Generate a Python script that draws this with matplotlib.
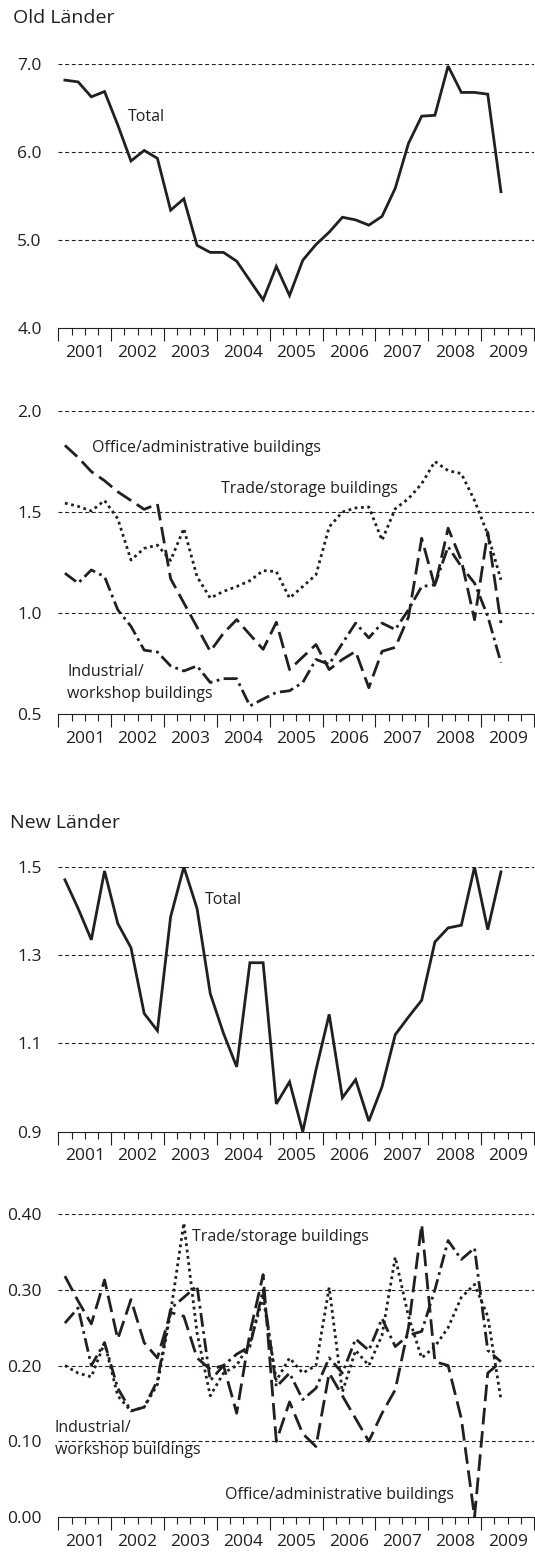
import numpy as np
import matplotlib.pyplot as plt
from matplotlib.transforms import offset_copy

plt.rcParams['font.family'] = ['Open Sans', 'DejaVu Sans']

# quarterly values, 2001 Q1 .. 2009 Q2
old_total = [6.82, 6.80, 6.63, 6.69, 6.31, 5.90, 6.02, 5.93, 5.34, 5.47, 4.94, 4.86,
             4.86, 4.76, 4.54, 4.32, 4.70, 4.37, 4.77, 4.95, 5.09, 5.26, 5.23, 5.17,
             5.27, 5.59, 6.10, 6.41, 6.42, 6.98, 6.68, 6.68, 6.66, 5.55]
old_office = [1.83, 1.77, 1.70, 1.655, 1.60, 1.557, 1.513, 1.54, 1.17, 1.05, 0.93, 0.81,
              0.90, 0.967, 0.893, 0.82, 0.954, 0.72, 0.782, 0.844, 0.72, 0.77, 0.81, 0.63,
              0.81, 0.83, 0.98, 1.37, 1.13, 1.42, 1.26, 0.967, 1.40, 0.95]
old_trade = [1.544, 1.528, 1.505, 1.557, 1.467, 1.262, 1.32, 1.336, 1.26, 1.418, 1.18, 1.074,
             1.107, 1.131, 1.16, 1.21, 1.205, 1.074, 1.131, 1.189, 1.426, 1.50, 1.52, 1.525,
             1.36, 1.516, 1.566, 1.64, 1.75, 1.705, 1.69, 1.557, 1.39, 1.164]
old_industrial = [1.197, 1.148, 1.213, 1.18, 1.016, 0.934, 0.816, 0.807, 0.738, 0.713, 0.738, 0.656,
                  0.675, 0.675, 0.54, 0.574, 0.607, 0.615, 0.656, 0.77, 0.746, 0.85, 0.95, 0.877,
                  0.95, 0.918, 1.016, 1.131, 1.14, 1.328, 1.23, 1.148, 0.984, 0.754]

new_total = [1.471, 1.406, 1.335, 1.491, 1.372, 1.317, 1.168, 1.129, 1.387, 1.500, 1.406, 1.213,
             1.123, 1.047, 1.283, 1.283, 0.963, 1.013, 0.900, 1.040, 1.166, 0.977, 1.018, 0.924,
             1.002, 1.120, 1.160, 1.198, 1.330, 1.362, 1.368, 1.500, 1.358, 1.489]
new_office = [0.318, 0.285, 0.255, 0.313, 0.235, 0.287, 0.23, 0.21, 0.27, 0.265, 0.21, 0.195,
              0.20, 0.137, 0.243, 0.32, 0.10, 0.152, 0.11, 0.093, 0.19, 0.16, 0.13, 0.10,
              0.137, 0.168, 0.25, 0.386, 0.205, 0.20, 0.13, 0.0, 0.19, 0.205]
new_trade = [0.20, 0.19, 0.185, 0.23, 0.16, 0.14, 0.145, 0.175, 0.27, 0.388, 0.243, 0.16,
             0.19, 0.20, 0.23, 0.29, 0.18, 0.21, 0.19, 0.20, 0.303, 0.165, 0.22, 0.20,
             0.24, 0.343, 0.265, 0.21, 0.225, 0.25, 0.29, 0.307, 0.265, 0.155]
new_industrial = [0.256, 0.276, 0.20, 0.23, 0.17, 0.14, 0.145, 0.18, 0.275, 0.29, 0.305, 0.18,
                  0.20, 0.215, 0.225, 0.30, 0.172, 0.19, 0.155, 0.17, 0.21, 0.19, 0.235, 0.22,
                  0.262, 0.225, 0.24, 0.245, 0.30, 0.365, 0.34, 0.355, 0.22, 0.205]

years = ['2001', '2002', '2003', '2004', '2005', '2006', '2007', '2008', '2009']

ink = '#231f20'
x = np.arange(len(old_total)) + 0.5

office_ls = (0, (6.0, 2.4))
trade_ls = (0, (1.0, 1.3))
industrial_ls = (0, (5.0, 1.6, 1.0, 1.6))

W, H = 535, 1554
fig = plt.figure(figsize=(W / 100, H / 100), dpi=100)


def make_axes(top_px, bottom_px):
    left, right = 58.3, 534.0
    return fig.add_axes([left / W, 1 - bottom_px / H, (right - left) / W, (bottom_px - top_px) / H])


def style_axes(ax, ylim, yticks, fmt):
    ax.set_xlim(0, 36)
    ax.set_ylim(*ylim)
    for s in ['left', 'right', 'top']:
        ax.spines[s].set_visible(False)
    ax.spines['bottom'].set_color(ink)
    ax.spines['bottom'].set_linewidth(0.8)
    ax.set_xticks(np.arange(0, 37, 4))
    ax.set_xticks(np.arange(0, 37, 1), minor=True)
    ax.tick_params(axis='x', which='major', length=9, width=0.8, color=ink, labelbottom=False)
    ax.tick_params(axis='x', which='minor', length=5, width=0.8, color=ink)
    ax.set_yticks(yticks)
    ax.set_yticklabels([fmt.format(v) for v in yticks])
    ax.tick_params(axis='y', length=0, pad=12, labelsize=12.5, labelcolor=ink)
    for v in yticks[1:]:
        ax.axhline(v, color=ink, lw=0.8, linestyle=(0, (3.5, 2.5)), zorder=1)
    # year labels centred under each year, below the tick marks
    tr = offset_copy(ax.get_xaxis_transform(), fig=fig, y=-12, units='points')
    for k, yr in enumerate(years):
        ax.text(4 * k + 2, 0, yr, transform=tr, ha='center', va='top',
                fontsize=12.5, color=ink)


fig.text(13 / W, 1 - 18 / H, 'Old Länder', fontsize=14, color=ink, va='center', ha='left')
fig.text(10 / W, 1 - 823 / H, 'New Länder', fontsize=14, color=ink, va='center', ha='left')

# panel 1
ax1 = make_axes(64.3, 328.0)
style_axes(ax1, (4.0, 7.0), [4.0, 5.0, 6.0, 7.0], '{:.1f}')
ax1.plot(x, old_total, color=ink, lw=2.0, solid_joinstyle='miter', zorder=3)
ax1.text(5.25, 6.40, 'Total', fontsize=11.5, color=ink, va='center')

# panel 2
ax2 = make_axes(411.0, 714.0)
style_axes(ax2, (0.5, 2.0), [0.5, 1.0, 1.5, 2.0], '{:.1f}')
ax2.plot(x, old_office, color=ink, lw=2.0, linestyle=office_ls, dash_capstyle='butt', zorder=3)
ax2.plot(x, old_trade, color=ink, lw=2.0, linestyle=trade_ls, dash_capstyle='butt', zorder=3)
ax2.plot(x, old_industrial, color=ink, lw=2.0, linestyle=industrial_ls, dash_capstyle='butt', zorder=3)
ax2.text(2.55, 1.817, 'Office/administrative buildings', fontsize=11.5, color=ink, va='center')
ax2.text(12.35, 1.614, 'Trade/storage buildings', fontsize=11.5, color=ink, va='center')
ax2.text(0.68, 0.708, 'Industrial/', fontsize=11.5, color=ink, va='center')
ax2.text(0.68, 0.600, 'workshop buildings', fontsize=11.5, color=ink, va='center')

# panel 3
ax3 = make_axes(867.0, 1131.7)
style_axes(ax3, (0.9, 1.5), [0.9, 1.1, 1.3, 1.5], '{:.1f}')
ax3.plot(x, new_total, color=ink, lw=2.0, solid_joinstyle='miter', zorder=3)
ax3.text(11.1, 1.425, 'Total', fontsize=11.5, color=ink, va='center')

# panel 4
ax4 = make_axes(1214.0, 1517.0)
style_axes(ax4, (0.0, 0.4), [0.0, 0.1, 0.2, 0.3, 0.4], '{:.2f}')
ax4.plot(x, new_office, color=ink, lw=2.0, linestyle=office_ls, dash_capstyle='butt', zorder=3)
ax4.plot(x, new_trade, color=ink, lw=2.0, linestyle=trade_ls, dash_capstyle='butt', zorder=3)
ax4.plot(x, new_industrial, color=ink, lw=2.0, linestyle=industrial_ls, dash_capstyle='butt', zorder=3)
ax4.text(10.1, 0.370, 'Trade/storage buildings', fontsize=11.5, color=ink, va='center')
ax4.text(-0.25, 0.1175, 'Industrial/', fontsize=11.5, color=ink, va='center')
ax4.text(-0.25, 0.089, 'workshop buildings', fontsize=11.5, color=ink, va='center')
ax4.text(12.6, 0.029, 'Office/administrative buildings', fontsize=11.5, color=ink, va='center')

fig.savefig('out.png', dpi=100)
